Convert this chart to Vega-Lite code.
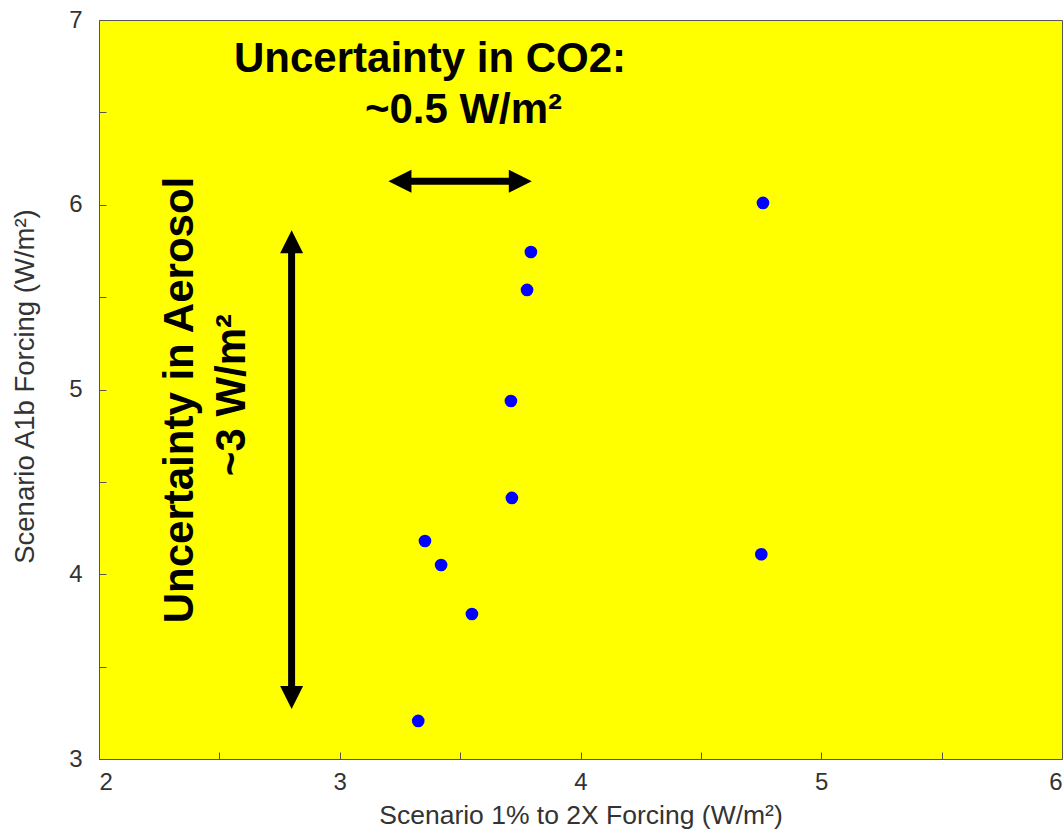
{
  "$schema": "https://vega.github.io/schema/vega-lite/v6.json",
  "width": 963,
  "height": 739,
  "autosize": {"type": "none"},
  "padding": {"left": 99, "top": 20, "right": 1, "bottom": 73},
  "background": "white",
  "config": {
    "view": {"fill": "#ffff00", "stroke": "#555555", "strokeWidth": 1},
    "axis": {
      "grid": false,
      "domainColor": "#555555",
      "tickColor": "#555555",
      "tickSize": -7,
      "labelFont": "Liberation Sans",
      "labelFontSize": 24,
      "labelColor": "#333333",
      "titleFont": "Liberation Sans",
      "titleFontWeight": "normal",
      "titleColor": "#333333"
    }
  },
  "datasets": {
    "models": [
      {"x": 4.758, "y": 6.01},
      {"x": 3.794, "y": 5.744},
      {"x": 3.778, "y": 5.539},
      {"x": 3.711, "y": 4.938},
      {"x": 3.715, "y": 4.413},
      {"x": 3.354, "y": 4.18},
      {"x": 3.421, "y": 4.05},
      {"x": 3.549, "y": 3.785},
      {"x": 3.326, "y": 3.206},
      {"x": 4.751, "y": 4.108}
    ],
    "shafts": [
      {"x": 3.25, "x2": 3.75, "y": 6.127, "y2": 6.127},
      {"x": 2.8, "x2": 2.8, "y": 5.8, "y2": 3.333}
    ],
    "heads": [
      {"x": 3.25, "y": 6.127, "dir": "left"},
      {"x": 3.75, "y": 6.127, "dir": "right"},
      {"x": 2.8, "y": 5.8, "dir": "up"},
      {"x": 2.8, "y": 3.333, "dir": "down"}
    ],
    "notes": [
      {"x": 3.375, "y": 6.72, "text": "Uncertainty in CO2:", "orient": "h"},
      {"x": 3.514, "y": 6.444, "text": "~0.5 W/m²", "orient": "h"},
      {"x": 2.39, "y": 4.943, "text": "Uncertainty in Aerosol", "orient": "v"},
      {"x": 2.606, "y": 4.97, "text": "~3 W/m²", "orient": "v"}
    ]
  },
  "encoding": {
    "x": {
      "field": "x",
      "type": "quantitative",
      "scale": {"domain": [2, 6], "nice": false, "zero": false},
      "axis": {
        "title": "Scenario 1% to 2X Forcing (W/m²)",
        "titleFontSize": 26.5,
        "values": [2, 2.5, 3, 3.5, 4, 4.5, 5, 5.5, 6],
        "labelExpr": "datum.value % 1 === 0 ? format(datum.value, 'd') : ''",
        "labelPadding": 18,
        "titleY": 56,
        "titleBaseline": "middle"
      }
    },
    "y": {
      "field": "y",
      "type": "quantitative",
      "scale": {"domain": [3, 7], "nice": false, "zero": false},
      "axis": {
        "title": "Scenario A1b Forcing (W/m²)",
        "titleFontSize": 27.5,
        "values": [3, 3.5, 4, 4.5, 5, 5.5, 6, 6.5, 7],
        "labelExpr": "datum.value % 1 === 0 ? format(datum.value, 'd') : ''",
        "labelPadding": 24,
        "titleX": -74,
        "titleY": 366,
        "titleAngle": 270,
        "titleBaseline": "middle"
      }
    }
  },
  "layer": [
    {
      "data": {"name": "shafts"},
      "mark": {"type": "rule", "color": "black", "strokeWidth": 7, "strokeCap": "butt"},
      "encoding": {
        "x2": {"field": "x2"},
        "y2": {"field": "y2"}
      }
    },
    {
      "data": {"name": "heads"},
      "mark": {"type": "point", "filled": true, "color": "black", "opacity": 1, "size": 529, "strokeWidth": 0},
      "encoding": {
        "shape": {
          "field": "dir",
          "type": "nominal",
          "scale": {
            "domain": ["left", "right", "up", "down"],
            "range": ["M-1,0L1,-1L1,1Z", "M1,0L-1,-1L-1,1Z", "M0,-1L1,1L-1,1Z", "M0,1L1,-1L-1,-1Z"]
          },
          "legend": null
        }
      }
    },
    {
      "data": {"name": "models"},
      "mark": {"type": "circle", "color": "#0000ff", "opacity": 1, "size": 160}
    },
    {
      "data": {"name": "notes"},
      "transform": [{"filter": "datum.orient === 'h'"}],
      "mark": {"type": "text", "font": "Liberation Sans", "fontWeight": "bold", "fontSize": 42, "color": "black", "align": "center", "baseline": "alphabetic"},
      "encoding": {"text": {"field": "text"}}
    },
    {
      "data": {"name": "notes"},
      "transform": [{"filter": "datum.orient === 'v'"}],
      "mark": {"type": "text", "font": "Liberation Sans", "fontWeight": "bold", "fontSize": 42, "color": "black", "align": "center", "baseline": "alphabetic", "angle": 270},
      "encoding": {"text": {"field": "text"}}
    }
  ]
}
